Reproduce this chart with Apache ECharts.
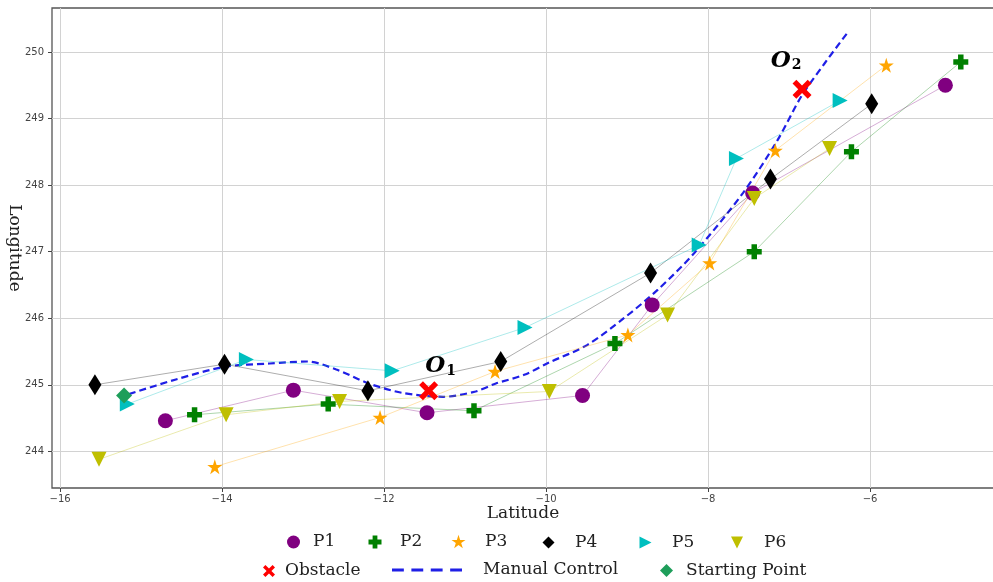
<!DOCTYPE html>
<html>
<head>
<meta charset="utf-8">
<title>UAV paths</title>
<script src="https://cdn.jsdelivr.net/npm/echarts@6/dist/echarts.min.js"></script>
<style>
  html, body { margin: 0; padding: 0; background: #ffffff; }
  #chart { width: 993px; height: 582px; }
</style>
</head>
<body>
<div id="chart"></div>
<script>
// Flight paths: [latitude, longitude] for each pilot
const P1 = [[-14.70, 244.46], [-13.12, 244.92], [-11.47, 244.58], [-9.55, 244.84], [-8.69, 246.20], [-7.45, 247.88], [-5.07, 249.50]];
const P2 = [[-14.34, 244.55], [-12.69, 244.71], [-10.89, 244.61], [-9.15, 245.62], [-7.43, 247.00], [-6.23, 248.50], [-4.88, 249.85]];
const P3 = [[-14.09, 243.77], [-12.05, 244.51], [-10.63, 245.20], [-8.99, 245.75], [-7.98, 246.83], [-7.17, 248.52], [-5.80, 249.80]];
const P4 = [[-15.57, 245.00], [-13.97, 245.31], [-12.20, 244.91], [-10.56, 245.35], [-8.71, 246.68], [-7.23, 248.09], [-5.98, 249.22]];
const P5 = [[-15.17, 244.71], [-13.70, 245.38], [-11.90, 245.21], [-10.26, 245.86], [-8.11, 247.10], [-7.65, 248.40], [-6.37, 249.27]];
const P6 = [[-15.52, 243.88], [-13.95, 244.55], [-12.55, 244.75], [-9.96, 244.90], [-8.50, 246.05], [-7.43, 247.80], [-6.50, 248.55]];

// Manually controlled reference flight
const manualControl = [[-15.15, 244.86], [-14.57, 245.08], [-13.97, 245.27], [-13.41, 245.32], [-12.95, 245.35],
  [-12.59, 245.23], [-12.19, 245.02], [-11.78, 244.88], [-11.27, 244.82], [-10.87, 244.90], [-10.62, 245.02],
  [-10.27, 245.15], [-9.97, 245.33], [-9.49, 245.60], [-9.04, 246.00], [-8.62, 246.43], [-8.17, 246.98],
  [-7.57, 247.88], [-7.14, 248.68], [-6.85, 249.33], [-6.56, 249.83], [-6.26, 250.32]];

const obstacles = [[-11.45, 244.91], [-6.84, 249.44]];
const obstacleNames = ['1', '2'];
const startingPoint = [[-15.21, 244.84]];

const xTicks = [-16, -14, -12, -10, -8, -6];
const yTicks = [244, 245, 246, 247, 248, 249, 250];

// Marker shapes
const SHAPES = {
  plus: 'path://M-1.1,-3H1.1V-1.1H3V1.1H1.1V3H-1.1V1.1H-3V-1.1H-1.1Z',
  star: 'path://M0,-1L0.2245,-0.309L0.951,-0.309L0.363,0.118L0.588,0.809L0,0.382L-0.588,0.809L-0.363,0.118L-0.951,-0.309L-0.2245,-0.309Z',
  thinDiamond: 'path://M0,-1L0.6,0L0,1L-0.6,0Z',
  triRight: 'path://M-1,-1L1,0L-1,1Z',
  triDown: 'path://M-1,-1L1,-1L0,1Z',
  cross: 'path://M-1,-0.6L-0.6,-1L0,-0.4L0.6,-1L1,-0.6L0.4,0L1,0.6L0.6,1L0,0.4L-0.6,1L-1,0.6L-0.4,0Z',
  dashes: 'path://M0,0h11v2.6h-11zM18,0h11v2.6h-11zM36,0h11v2.6h-11zM54,0h11v2.6h-11z'
};

const SERIF = 'DejaVu Serif';
const SANS = 'DejaVu Sans';
const minus = v => String(v).replace('-', '\u2212');

const pilots = [
  { name: 'P1', data: P1, color: '#800080', symbol: 'circle', size: 15 },
  { name: 'P2', data: P2, color: '#008000', symbol: SHAPES.plus, size: 15 },
  { name: 'P3', data: P3, color: '#FFA500', symbol: SHAPES.star, size: 15 },
  { name: 'P4', data: P4, color: '#000000', symbol: SHAPES.thinDiamond, size: [13, 21] },
  { name: 'P5', data: P5, color: '#00BFBF', symbol: SHAPES.triRight, size: 15 },
  { name: 'P6', data: P6, color: '#BFBF00', symbol: SHAPES.triDown, size: 15 }
];

const pilotSeries = pilots.map(p => ({
  name: p.name,
  type: 'line',
  data: p.data,
  z: 3,
  symbol: p.symbol,
  symbolSize: p.size,
  showAllSymbol: true,
  itemStyle: { color: p.color, opacity: 1 },
  lineStyle: { color: p.color, width: 1, opacity: 0.32 },
  emphasis: { disabled: true },
  animation: false
}));

// One legend entry per box so every item sits where it belongs
function legendItem(name, icon, cx, cy, w, h, textStart) {
  return {
    data: [{ name: name, icon: icon }],
    left: cx - w / 2,
    top: cy - h / 2,
    itemWidth: w,
    itemHeight: h,
    selectedMode: false,
    padding: 0,
    textStyle: {
      fontFamily: SERIF, fontSize: 17, color: '#222', lineHeight: h,
      padding: [0, 0, 0, Math.max(0, textStart - (cx + w / 2) - 5)]
    }
  };
}

const legends = [
  legendItem('P1', 'circle', 293.5, 540, 13, 13, 313),
  legendItem('P2', SHAPES.plus, 375, 540, 13, 13, 400),
  legendItem('P3', SHAPES.star, 458.5, 540, 14, 14, 485),
  legendItem('P4', 'diamond', 548.5, 540, 12, 12, 575),
  legendItem('P5', SHAPES.triRight, 645.5, 540, 12, 12, 672),
  legendItem('P6', SHAPES.triDown, 737, 540, 12, 12, 764),
  legendItem('Obstacle', SHAPES.cross, 269, 568.5, 12, 12, 285),
  legendItem('Manual Control', SHAPES.dashes, 427, 568.5, 70, 14, 483),
  legendItem('Starting Point', 'diamond', 666.5, 568.5, 13, 13, 686)
];

const chart = echarts.init(document.getElementById('chart'), null, { renderer: 'canvas' });

chart.setOption({
  backgroundColor: '#ffffff',
  animation: false,
  legend: legends,
  grid: {
    left: 52, top: 8, right: -1, bottom: 94,
    show: true, borderColor: '#555', borderWidth: 1.3, backgroundColor: 'transparent',
    outerBoundsMode: 'none'
  },
  xAxis: {
    type: 'value', min: -16.10, max: -4.47,
    axisLine: { show: false },
    axisTick: { show: true, length: 4, customValues: xTicks, lineStyle: { color: '#444' } },
    axisLabel: { customValues: xTicks, formatter: minus, fontFamily: SANS, fontSize: 10, color: '#444', margin: 6 },
    splitLine: { show: true, lineStyle: { color: '#d2d2d2', width: 1 } },
    name: 'Latitude', nameLocation: 'middle', nameGap: 17, nameMoveOverlap: false,
    nameTextStyle: { fontFamily: SERIF, fontSize: 17, color: '#222' }
  },
  yAxis: {
    type: 'value', min: 243.45, max: 250.66,
    axisLine: { show: false },
    axisTick: { show: true, length: 4, customValues: yTicks, lineStyle: { color: '#444' } },
    axisLabel: { customValues: yTicks, fontFamily: SANS, fontSize: 10, color: '#444', margin: 8 },
    splitLine: { show: true, lineStyle: { color: '#d2d2d2', width: 1 } },
    name: 'Longitude', nameLocation: 'middle', nameGap: 29, nameRotate: -90, nameMoveOverlap: false,
    nameTextStyle: { fontFamily: SERIF, fontSize: 17, color: '#222' }
  },
  series: [
    {
      name: 'Manual Control',
      type: 'line',
      data: manualControl,
      smooth: 0.3,
      symbol: 'none',
      z: 2,
      itemStyle: { color: '#1f1fe6' },
      lineStyle: { color: '#1f1fe6', width: 2.2, type: [7, 4] },
      emphasis: { disabled: true }
    },
    ...pilotSeries,
    {
      name: 'Obstacle',
      type: 'scatter',
      z: 5,
      data: obstacles.map((p, i) => ({ value: p, name: obstacleNames[i] })),
      symbol: SHAPES.cross,
      symbolSize: 19,
      itemStyle: { color: '#FF0000', opacity: 1 },
      label: {
        show: true,
        position: 'top',
        formatter: params => '{o|O}{s|' + params.name + '}',
        rich: {
          o: { fontFamily: SERIF, fontWeight: 'bold', fontStyle: 'italic', fontSize: 23, color: '#000' },
          s: { fontFamily: SERIF, fontWeight: 'bold', fontSize: 14, color: '#000', padding: [10, 0, 0, 1] }
        }
      },
      labelLayout: params => ({
        dx: params.dataIndex === 0 ? 12 : -16,
        dy: params.dataIndex === 0 ? 2 : -2
      }),
      emphasis: { disabled: true }
    },
    {
      name: 'Starting Point',
      type: 'scatter',
      z: 6,
      data: startingPoint,
      symbol: 'diamond',
      symbolSize: 16,
      itemStyle: { color: '#1e9e5a', opacity: 1 },
      emphasis: { disabled: true }
    }
  ]
});
</script>
</body>
</html>
